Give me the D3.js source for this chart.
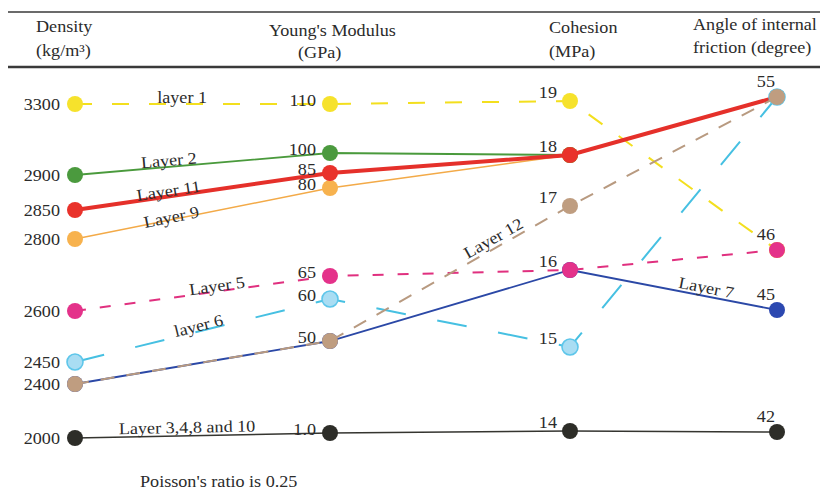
<!DOCTYPE html>
<html>
<head>
<meta charset="utf-8">
<script src="https://cdn.jsdelivr.net/npm/d3@7"></script>
<style>
  body { margin: 0; background: #fff; }
  text { font-family: "Liberation Serif", "Times New Roman", serif; font-size: 16.5px; fill: #2b2b2b; }
</style>
</head>
<body>
<div id="container"></div>
<script>
(function () {
  // axis headers (two lines each)
  var headers = [
    ["Density", "(kg/m\u00b3)"],
    ["Young's Modulus", "(GPa)"],
    ["Cohesion", "(MPa)"],
    ["Angle of internal", "friction (degree)"]
  ];

  // tick values on each axis
  var densityTicks = [2000, 2400, 2450, 2600, 2800, 2850, 2900, 3300];
  var modulusTicks = [1.0, 50, 60, 65, 80, 85, 100, 110];
  var cohesionTicks = [14, 15, 16, 17, 18, 19];
  var frictionTicks = [42, 45, 46, 55];
  var modulusLabels = ["1.0", "50", "60", "65", "80", "85", "100", "110"];

  // layers, in drawing order
  var layerNames = ["layer 1", "Layer 3,4,8 and 10", "Layer 9", "Layer 2", "Layer 11", "layer 6", "Layer 7", "Layer 5", "Layer 12"];
  var density  = [3300, 2000, 2800, 2900, 2850, 2450, 2400, 2600, 2400];
  var modulus  = [110, 1.0, 80, 100, 85, 60, 50, 65, 50];
  var cohesion = [19, 14, 18, 18, 18, 15, 16, 16, 17];
  var friction = [46, 42, 55, 55, 55, 55, 45, 46, 55];

  var note = "Poisson's ratio is 0.25";

  var width = 820, height = 491;

  var svg = d3.select("#container").append("svg").attr("width", width).attr("height", height);

  // the figure is schematic: each axis has its own uneven spacing
  var axisX = [75, 330, 570, 777];
  var axisStops = [
    [438, 384, 362, 311, 239, 210, 175, 104],
    [433, 341, 299, 276, 188, 173, 153, 104],
    [431, 347, 270, 206, 155, 101],
    [432, 310, 250, 97]
  ];
  var ticks = [densityTicks, modulusTicks, cohesionTicks, frictionTicks];
  var tickText = [densityTicks.map(String), modulusLabels, cohesionTicks.map(String), frictionTicks.map(String)];

  var x = d3.scaleOrdinal().domain(d3.range(4)).range(axisX);
  var y = ticks.map(function (t, i) {
    return d3.scaleLinear().domain(t).range(axisStops[i]);
  });

  var style = {
    "layer 1":            { c: "#f3df1e", w: 2,   dash: "17,20", dot: "#f6e22c" },
    "Layer 3,4,8 and 10": { c: "#353530", w: 1.6, dash: null,    dot: "#2d2d28" },
    "Layer 9":            { c: "#f3aa48", w: 1.6, dash: null,    dot: "#f7b24e" },
    "Layer 2":            { c: "#4a9a3c", w: 1.8, dash: null,    dot: "#4b9a3e" },
    "Layer 11":           { c: "#e5302a", w: 4,   dash: null,    dot: "#e9322b" },
    "layer 6":            { c: "#46c0e2", w: 2,   dash: "30,32", dot: "#a9ddf3", stroke: "#5ec6ea" },
    "Layer 7":            { c: "#2b48a6", w: 1.8, dash: null,    dot: "#2c48b0" },
    "Layer 5":            { c: "#e0307f", w: 2,   dash: "11,14", dot: "#e4328a" },
    "Layer 12":           { c: "#b89a80", w: 2,   dash: "14,12", dot: "#bf9d80" }
  };

  // where each layer's name sits: segment, fraction along it, lift above the line
  var labelPos = {
    "layer 1": [0, 0.42, 1],
    "Layer 3,4,8 and 10": [0, 0.44, 3],
    "Layer 9": [0, 0.38, -3],
    "Layer 2": [0, 0.37, 1],
    "Layer 11": [0, 0.37, 0],
    "layer 6": [0, 0.49, 0],
    "Layer 7": [2, 0.65, 3],
    "Layer 5": [0, 0.56, 0],
    "Layer 12": [1, 0.70, 4]
  };

  function txt(g, px, py, s, anchor, rot, dy) {
    return g.append("text")
      .attr("transform", "translate(" + px + "," + py + ") rotate(" + (rot || 0) + ") scale(1.1,1)")
      .attr("y", dy || 0)
      .attr("text-anchor", anchor || "start")
      .text(s);
  }

  // header rules
  svg.append("line").attr("x1", 8).attr("x2", width).attr("y1", 12).attr("y2", 12)
    .attr("stroke", "#3a3a3a").attr("stroke-width", 1.5);
  svg.append("line").attr("x1", 8).attr("x2", width).attr("y1", 67).attr("y2", 67)
    .attr("stroke", "#3a3a3a").attr("stroke-width", 2.5);

  var head = svg.append("g");
  var headX = [[36, 36], [269, 298], [549, 549], [693, 693]];
  var headY = [[32, 56], [36, 58], [33, 57], [30, 53]];
  headers.forEach(function (h, i) {
    txt(head, headX[i][0], headY[i][0], h[0]);
    txt(head, headX[i][1], headY[i][1], h[1]);
  });

  var rows = layerNames.map(function (n, i) {
    return { name: n, v: [density[i], modulus[i], cohesion[i], friction[i]] };
  });

  function pt(d, i) { return [x(i), y[i](d.v[i])]; }

  var line = d3.line();

  var layer = svg.selectAll(".layer").data(rows).enter().append("g").attr("class", "layer");

  layer.append("path")
    .attr("d", function (d) { return line(d.v.map(function (v, i) { return pt(d, i); })); })
    .attr("fill", "none")
    .attr("stroke", function (d) { return style[d.name].c; })
    .attr("stroke-width", function (d) { return style[d.name].w; })
    .attr("stroke-dasharray", function (d) { return style[d.name].dash; });

  layer.selectAll("circle").data(function (d) { return d.v.map(function (v, i) { return pt(d, i); }); })
    .enter().append("circle")
    .attr("cx", function (p) { return p[0]; })
    .attr("cy", function (p) { return p[1]; })
    .attr("r", 8)
    .attr("fill", function () { return style[d3.select(this.parentNode).datum().name].dot; })
    .attr("stroke", function () { return style[d3.select(this.parentNode).datum().name].stroke || "none"; })
    .attr("stroke-width", 1.6);

  // layer names along their lines
  var names = svg.append("g");
  rows.forEach(function (d) {
    var lp = labelPos[d.name], s = lp[0];
    var a = pt(d, s), b = pt(d, s + 1);
    var px = a[0] + (b[0] - a[0]) * lp[1], py = a[1] + (b[1] - a[1]) * lp[1];
    var ang = Math.atan2(b[1] - a[1], b[0] - a[0]) * 180 / Math.PI;
    txt(names, px, py, d.name, "middle", ang, -lp[2]);
  });

  // value labels beside the points
  var tickOff = [[-15, 5.5], [-14, 2], [-13, -3], [-2, -10]];
  var vals = svg.append("g");
  ticks.forEach(function (t, i) {
    t.forEach(function (v, k) {
      txt(vals, x(i) + tickOff[i][0], y[i](v) + tickOff[i][1], tickText[i][k], "end");
    });
  });

  txt(svg, 140, 487, note);
})();
</script>
</body>
</html>
